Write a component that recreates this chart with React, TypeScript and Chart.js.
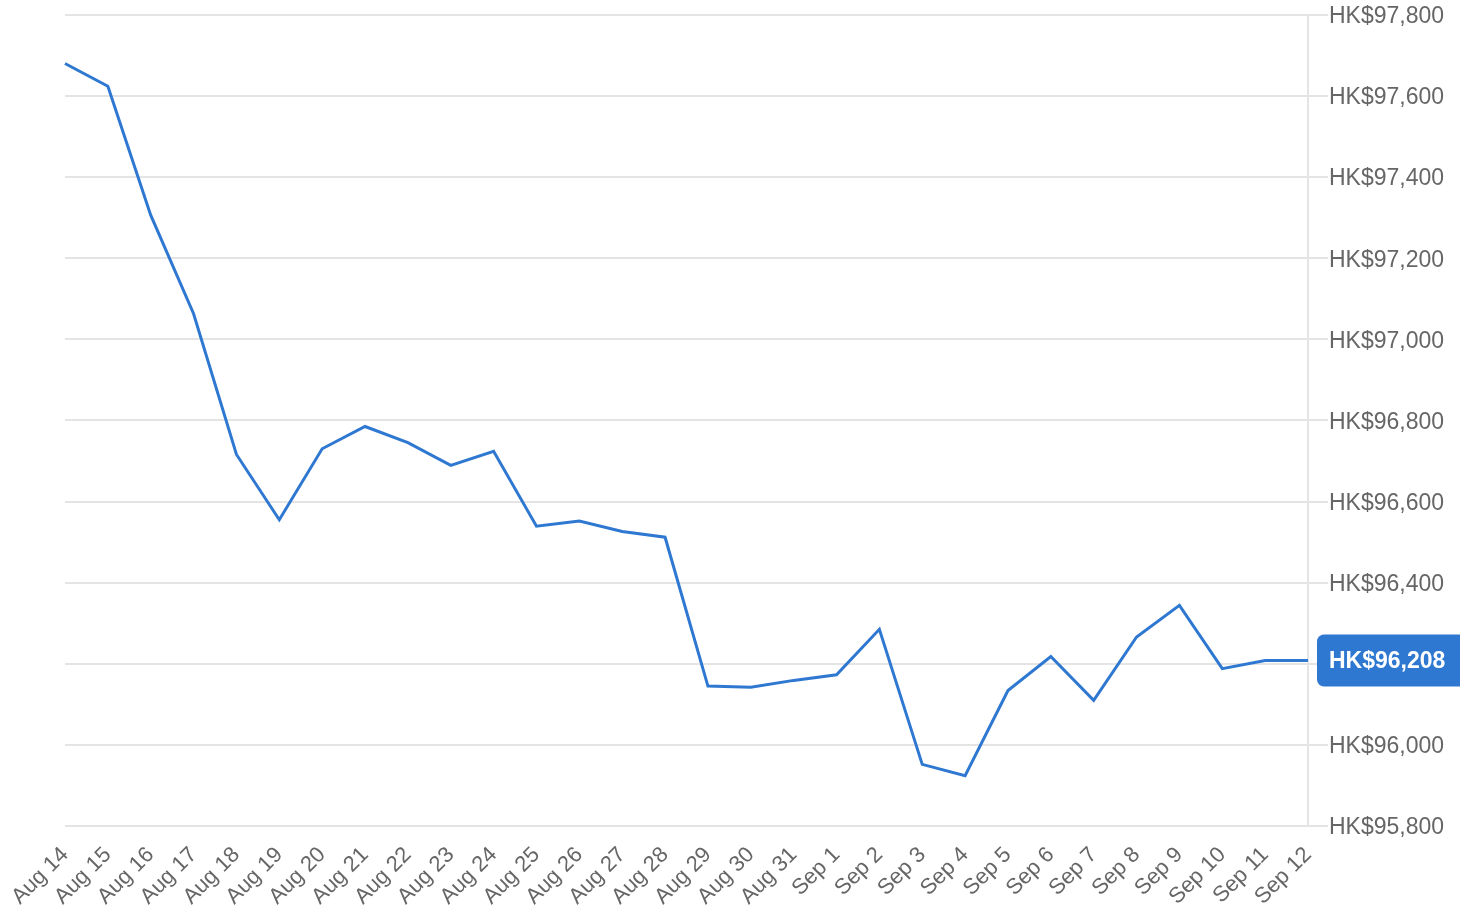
import React, { useEffect, useRef } from "react";
import { Chart, registerables } from "chart.js";

Chart.register(...registerables);

const labels: string[] = [
  "Aug 14", "Aug 15", "Aug 16", "Aug 17", "Aug 18", "Aug 19", "Aug 20", "Aug 21",
  "Aug 22", "Aug 23", "Aug 24", "Aug 25", "Aug 26", "Aug 27", "Aug 28", "Aug 29",
  "Aug 30", "Aug 31", "Sep 1", "Sep 2", "Sep 3", "Sep 4", "Sep 5", "Sep 6",
  "Sep 7", "Sep 8", "Sep 9", "Sep 10", "Sep 11", "Sep 12",
];

const prices: number[] = [
  97680, 97624, 97306, 97063, 96716, 96555, 96730, 96785,
  96745, 96689, 96724, 96539, 96552, 96526, 96512, 96145,
  96142, 96159, 96173, 96285, 95952, 95924, 96134, 96218,
  96110, 96266, 96344, 96188, 96208, 96208,
];

const yMin = 95800;
const yMax = 97800;
const yStep = 200;

const LINE_COLOR = "#2f78d1";
const GRID_COLOR = "#e4e4e4";
const FONT = "'Liberation Sans', Arial, Helvetica, sans-serif";

const fmt = (v: number) => "HK$" + Math.round(v).toLocaleString("en-US");

const badgePlugin = {
  id: "lastBadge",
  afterDraw(chart: any) {
    const { ctx, chartArea, scales } = chart;
    const data = chart.data.datasets[0].data as number[];
    const last = data[data.length - 1];
    const y = scales.y.getPixelForValue(last);
    const x = chartArea.right + 9;
    const h = 52;
    const w = 170;
    ctx.save();
    ctx.fillStyle = LINE_COLOR;
    ctx.beginPath();
    (ctx as any).roundRect(x, y - h / 2, w, h, 7);
    ctx.fill();
    ctx.fillStyle = "#ffffff";
    ctx.font = `bold 23px ${FONT}`;
    ctx.textAlign = "left";
    ctx.textBaseline = "middle";
    ctx.fillText(fmt(last), chartArea.right + 21, y + 1);
    ctx.restore();
  },
};

export default function App() {
  const ref = useRef<HTMLCanvasElement | null>(null);

  useEffect(() => {
    if (!ref.current) return;
    const chart = new Chart(ref.current, {
      type: "line",
      data: {
        labels,
        datasets: [
          {
            data: prices,
            borderColor: LINE_COLOR,
            borderWidth: 3,
            pointRadius: 0,
            tension: 0,
            fill: false,
          },
        ],
      },
      options: {
        animation: false,
        responsive: false,
        layout: { padding: { left: 65, top: 14, right: 0, bottom: 0 } },
        plugins: {
          legend: { display: false },
          tooltip: { enabled: false },
        },
        scales: {
          x: {
            grid: { display: false },
            border: { display: false },
            ticks: {
              minRotation: 45,
              maxRotation: 45,
              autoSkip: false,
              padding: 8,
              color: "#666",
              font: { family: FONT, size: 22 },
            },
            afterFit(scale: any) {
              scale.height = 86;
            },
          },
          y: {
            position: "right",
            min: yMin,
            max: yMax,
            grid: {
              color: GRID_COLOR,
              lineWidth: 2,
              tickLength: 20,
              drawTicks: true,
            },
            border: { display: true, color: GRID_COLOR, width: 2 },
            ticks: {
              stepSize: yStep,
              padding: 1,
              labelOffset: 2,
              color: "#666",
              font: { family: FONT, size: 23 },
              callback: (v: any) => fmt(Number(v)),
            },
            afterFit(scale: any) {
              scale.width = 152;
            },
          },
        },
      },
      plugins: [badgePlugin],
    });
    return () => chart.destroy();
  }, []);

  return (
    <div style={{ position: "fixed", left: 0, top: 0, width: 1460, height: 912, background: "#fff" }}>
      <canvas ref={ref} width={1460} height={912} style={{ display: "block" }} />
    </div>
  );
}
